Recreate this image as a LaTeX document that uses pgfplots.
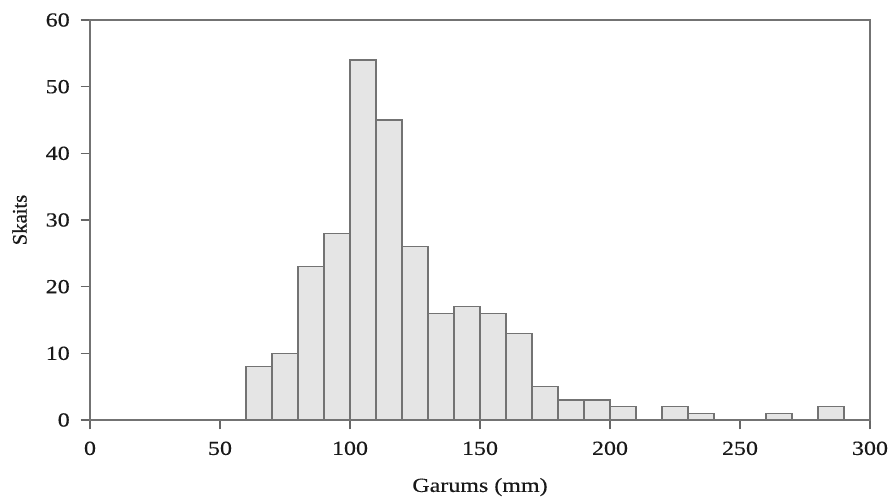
\documentclass[border=0pt]{standalone}
\usepackage{pgfplots}
\pgfplotsset{compat=1.18}
\usepackage{fontspec}
\setmainfont{Liberation Serif}
\newfontfamily\stretched{Liberation Serif}[FakeStretch=1.2, FakeBold=0.4]
\newfontfamily\boldish{Liberation Serif}[FakeBold=0.6]
\begin{document}
\fontsize{15}{18}\selectfont
\begin{tikzpicture}[x=1pt,y=1pt]
\path[use as bounding box] (-67.5,-58.5) rectangle (600,315);
\begin{axis}[
  at={(0,0)}, anchor=origin,
  scale only axis,
  width=585pt, height=300pt,
  xmin=0, xmax=300, ymin=0, ymax=60,
  xtick={0,50,...,300},
  ytick={0,10,...,60},
  tick align=outside,
  major tick length=7pt,
  xtick pos=bottom, ytick pos=left,
  axis line style={draw=black!55, line width=0.9pt},
  every tick/.style={draw=black!60, line width=0.9pt},
  /pgf/number format/assume math mode=true,
  tick label style={font=\stretched\fontsize{15}{18}\selectfont, text=black!90},
  xticklabel style={yshift=-4pt},
  yticklabel style={xshift=-3pt},
  xlabel={Garums (mm)},
  ylabel={Skaits},
  xlabel style={font=\stretched\fontsize{15}{18}\selectfont, text=black!90, yshift=-7pt},
  ylabel style={font=\boldish\fontsize{15.5}{18}\selectfont, text=black!90, yshift=4pt},
]
\addplot[ybar interval, fill=black!10, draw=black!55, line width=0.9pt] coordinates {
(60,8) (70,10) (80,23) (90,28) (100,54) (110,45) (120,26) (130,16) (140,17)
(150,16) (160,13) (170,5) (180,3) (190,3) (200,2) (210,0) (220,2) (230,1)
(240,0) (250,0) (260,1) (270,0) (280,2) (290,2)
};
\end{axis}
\end{tikzpicture}
\end{document}
